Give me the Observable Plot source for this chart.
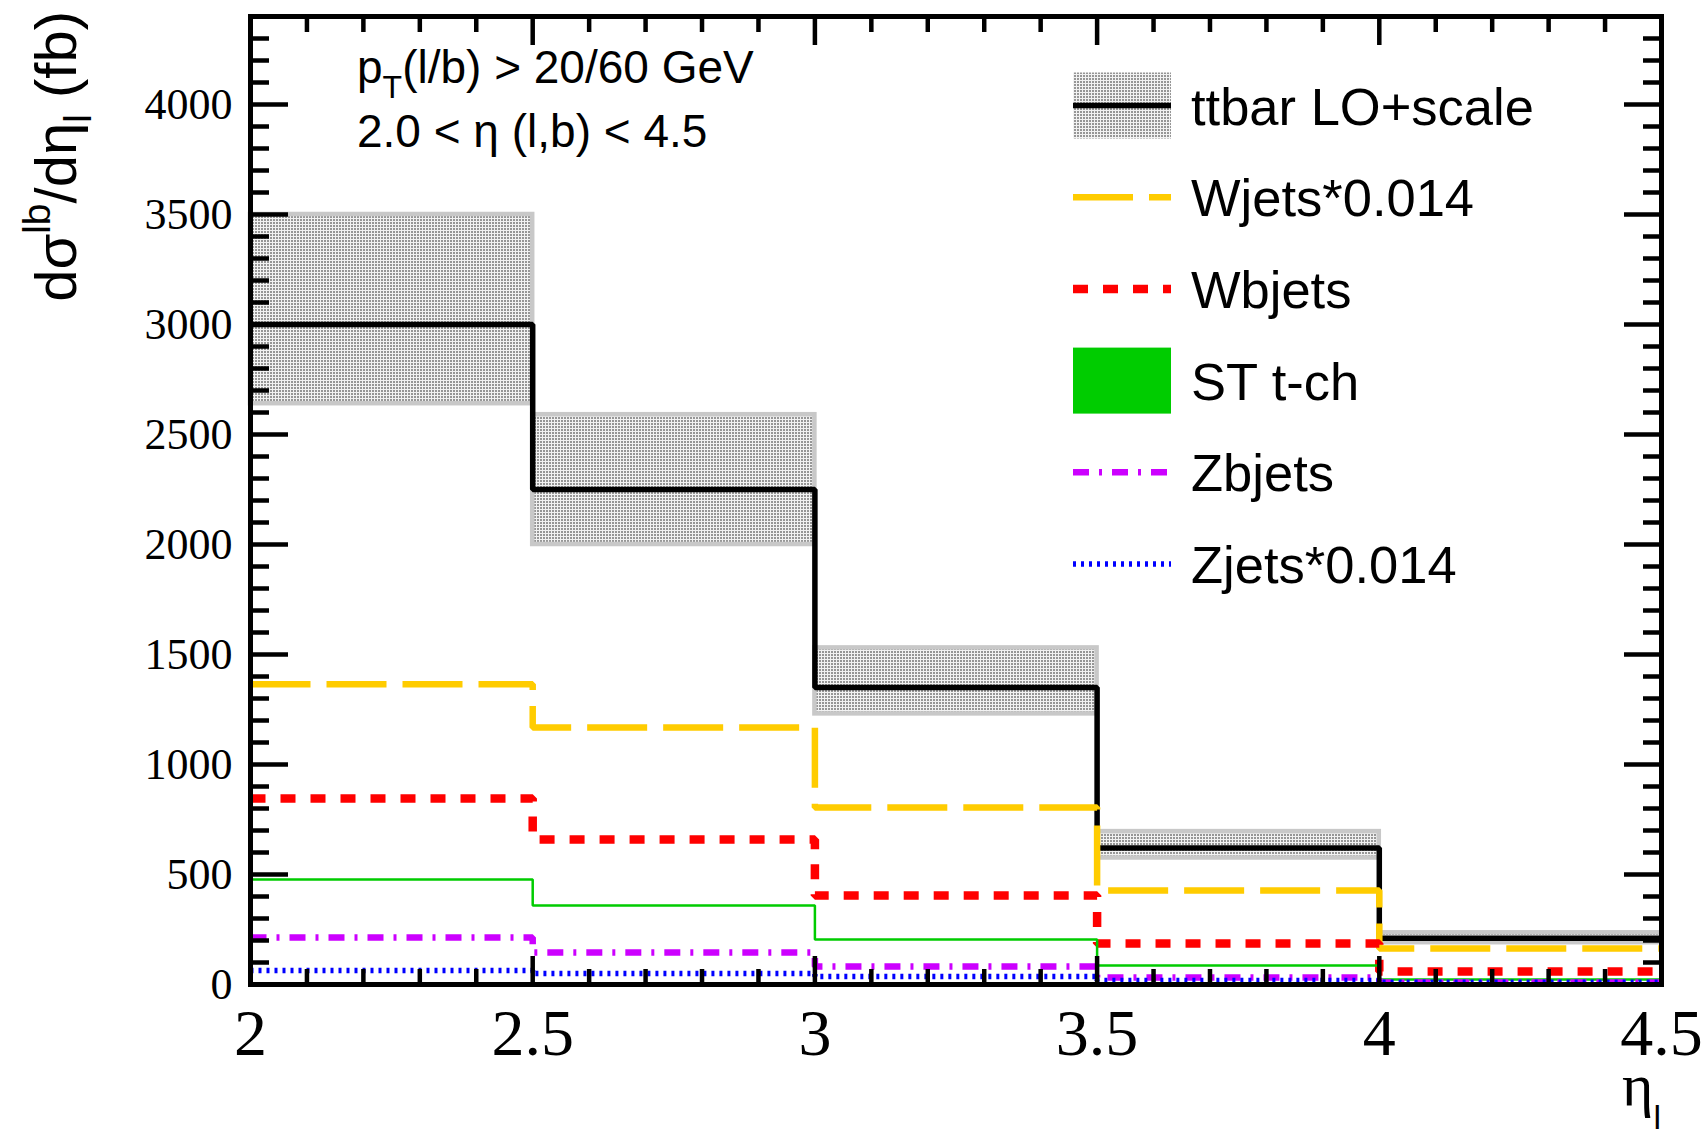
<!DOCTYPE html>
<html><head><meta charset="utf-8">
<script src="https://cdn.jsdelivr.net/npm/d3@7"></script>
<script src="https://cdn.jsdelivr.net/npm/@observablehq/plot@0.6"></script>
<style>
body{margin:0;background:#fff;}
#wrap{position:relative;width:1705px;height:1136px;overflow:hidden;background:#fff;}
#wrap svg{position:absolute;left:0;top:0;}
</style></head>
<body><div id="wrap"></div>
<script>
// ---- data ----
const binEdges   = [2, 2.5, 3, 3.5, 4, 4.5];
const ttbar      = [3000, 2250, 1350, 620, 210];
const ttbarUp    = [3500, 2590, 1530, 695, 235];
const ttbarDown  = [2640, 2000, 1230, 575, 190];
const wjets      = [1365, 1168, 805, 427, 164];
const wbjets     = [845, 659, 405, 186, 59];
const stTch      = [477, 359, 205, 86, 23];
const zbjets     = [214, 145, 82, 32, 9];
const zjets      = [64, 50, 36, 18, 10];
const yMajorTicks = [0, 500, 1000, 1500, 2000, 2500, 3000, 3500, 4000];
const xMajorTicks = [2, 2.5, 3, 3.5, 4, 4.5];
const legendLabels = ["ttbar LO+scale", "Wjets*0.014", "Wbjets", "ST t-ch", "Zbjets", "Zjets*0.014"];

// ---- styles ----
const S = {
  ttbar:  {stroke: "#000000", w: 5.5, dash: null},
  wjets:  {stroke: "#ffcc00", w: 6.5, dash: "60,16"},
  wbjets: {stroke: "#ff0000", w: 8.5, dash: "15,15"},
  st:     {stroke: "#00cc00", w: 2.5, dash: null},
  zbjets: {stroke: "#cc00ff", w: 6.5, dash: "16,10,3,10"},
  zjets:  {stroke: "#0000ff", w: 5.5, dash: "3,5"}
};

const steps = vals => binEdges.map((x, i) => ({x, y: vals[Math.min(i, vals.length - 1)]}));
const bands = ttbar.map((v, i) => ({x1: binEdges[i], x2: binEdges[i + 1], lo: ttbarDown[i], hi: ttbarUp[i]}));
const yMinor = d3.range(0, 4401, 100).filter(v => v % 500 !== 0);
const xMinor = d3.range(20, 46, 1).map(v => v / 10).filter(v => Math.round(v * 10) % 5 !== 0);

const lineMark = (vals, s) => Plot.line(steps(vals), {
  x: "x", y: "y", curve: "step-after", stroke: s.stroke, strokeWidth: s.w,
  strokeDasharray: s.dash, strokeLinecap: "butt", strokeLinejoin: "miter"
});

const W = 1705, H = 1136;
const axisCommon = {label: null, strokeWidth: 4.5, fill: null};
const chart = Plot.plot({
  width: W, height: H,
  marginLeft: 250, marginRight: 44, marginTop: 16, marginBottom: 152,
  x: {domain: [2, 4.5]},
  y: {domain: [0, 4400]},
  style: {fontFamily: "Liberation Serif", background: "transparent", color: "#000"},
  marks: [
    Plot.rect(bands, {x1: "x1", x2: "x2", y1: "lo", y2: "hi", fill: "url(#dots)", stroke: "#c8c8c8", strokeWidth: 4.5}),
    lineMark(ttbar, S.ttbar),
    lineMark(wjets, S.wjets),
    lineMark(wbjets, S.wbjets),
    lineMark(stTch, S.st),
    lineMark(zbjets, S.zbjets),
    lineMark(zjets, S.zjets),
    // inward ticks
    Plot.axisY({...axisCommon, anchor: "left", ticks: yMajorTicks, tickSize: -38}),
    Plot.axisY({...axisCommon, anchor: "left", ticks: yMinor, tickSize: -19}),
    Plot.axisY({...axisCommon, anchor: "right", ticks: yMajorTicks, tickSize: -38}),
    Plot.axisY({...axisCommon, anchor: "right", ticks: yMinor, tickSize: -19}),
    Plot.axisX({...axisCommon, anchor: "bottom", ticks: xMajorTicks, tickSize: -28}),
    Plot.axisX({...axisCommon, anchor: "bottom", ticks: xMinor, tickSize: -15}),
    Plot.axisX({...axisCommon, anchor: "top", ticks: xMajorTicks, tickSize: -28}),
    Plot.axisX({...axisCommon, anchor: "top", ticks: xMinor, tickSize: -15}),
    // tick labels
    Plot.axisY({anchor: "left", ticks: yMajorTicks, tickSize: 0, tickPadding: 18, label: null,
      tickFormat: d => String(d), fontSize: 44, fontFamily: "Liberation Serif"}),
    Plot.axisX({anchor: "bottom", ticks: xMajorTicks, tickSize: 0, tickPadding: 24, label: null,
      tickFormat: d => String(d), fontSize: 66, fontFamily: "Liberation Serif"}),
    Plot.frame({stroke: "#000", strokeWidth: 5})
  ]
});

const wrap = document.getElementById("wrap");
wrap.appendChild(chart);

// dotted pattern for the scale band
function addPattern(sel, id) {
  const p = sel.append("pattern").attr("id", id).attr("width", 3).attr("height", 3).attr("patternUnits", "userSpaceOnUse");
  p.append("rect").attr("width", 3).attr("height", 3).attr("fill", "#f2f2f2");
  p.append("rect").attr("width", 2).attr("height", 2).attr("fill", "#969696");
}
addPattern(d3.select(chart).insert("defs", ":first-child"), "dots");

// ---- overlay: texts and legend ----
const ov = d3.select(wrap).append("svg").attr("width", W).attr("height", H)
  .style("font-family", "'Liberation Sans', Arial, sans-serif");
addPattern(ov.append("defs"), "dotsL");

// y title
const yt = ov.append("text").attr("transform", "translate(76,11) rotate(-90)")
  .attr("text-anchor", "end").attr("font-size", 58).attr("fill", "#000");
yt.append("tspan").text("dσ");
yt.append("tspan").attr("font-size", 39).attr("dy", -26).text("lb");
yt.append("tspan").attr("dy", 26).text("/dη");
yt.append("tspan").attr("font-size", 39).attr("dy", 15).text("l");
yt.append("tspan").attr("dy", -15).text(" (fb)");

// x title
const xt = ov.append("text").attr("x", 1661).attr("y", 1105).attr("text-anchor", "end")
  .attr("font-family", "'Liberation Serif', serif").attr("font-size", 60).attr("fill", "#000");
xt.append("tspan").text("η");
xt.append("tspan").attr("font-family", "'Liberation Sans', sans-serif").attr("font-size", 34).attr("dy", 24).text("l");

// annotation
const a1 = ov.append("text").attr("x", 357).attr("y", 83).attr("font-size", 46).attr("fill", "#000");
a1.append("tspan").text("p");
a1.append("tspan").attr("font-size", 32).attr("dy", 15).text("T");
a1.append("tspan").attr("dy", -15).text("(l/b) > 20/60 GeV");
ov.append("text").attr("x", 357).attr("y", 147).attr("font-size", 46).attr("fill", "#000")
  .text("2.0 < η (l,b) < 4.5");

// legend
const legStyles = [S.ttbar, S.wjets, S.wbjets, S.st, S.zbjets, S.zjets];
const lx0 = 1073, lx1 = 1171, ly0 = 105.5, ldy = 91.7;
legendLabels.forEach((lab, i) => {
  const cy = ly0 + i * ldy, s = legStyles[i];
  if (i === 0) {
    ov.append("rect").attr("x", lx0).attr("y", cy - 33).attr("width", lx1 - lx0).attr("height", 66).attr("fill", "url(#dotsL)");
    ov.append("line").attr("x1", lx0).attr("x2", lx1).attr("y1", cy).attr("y2", cy).attr("stroke", s.stroke).attr("stroke-width", s.w);
  } else if (i === 3) {
    ov.append("rect").attr("x", lx0).attr("y", cy - 33).attr("width", lx1 - lx0).attr("height", 66).attr("fill", s.stroke);
  } else {
    ov.append("line").attr("x1", lx0).attr("x2", lx1).attr("y1", cy).attr("y2", cy).attr("stroke", s.stroke)
      .attr("stroke-width", s.w).attr("stroke-dasharray", s.dash);
  }
  ov.append("text").attr("x", 1191).attr("y", cy + 19).attr("font-size", 52.5).attr("fill", "#000").text(lab);
});
</script>
</body></html>
